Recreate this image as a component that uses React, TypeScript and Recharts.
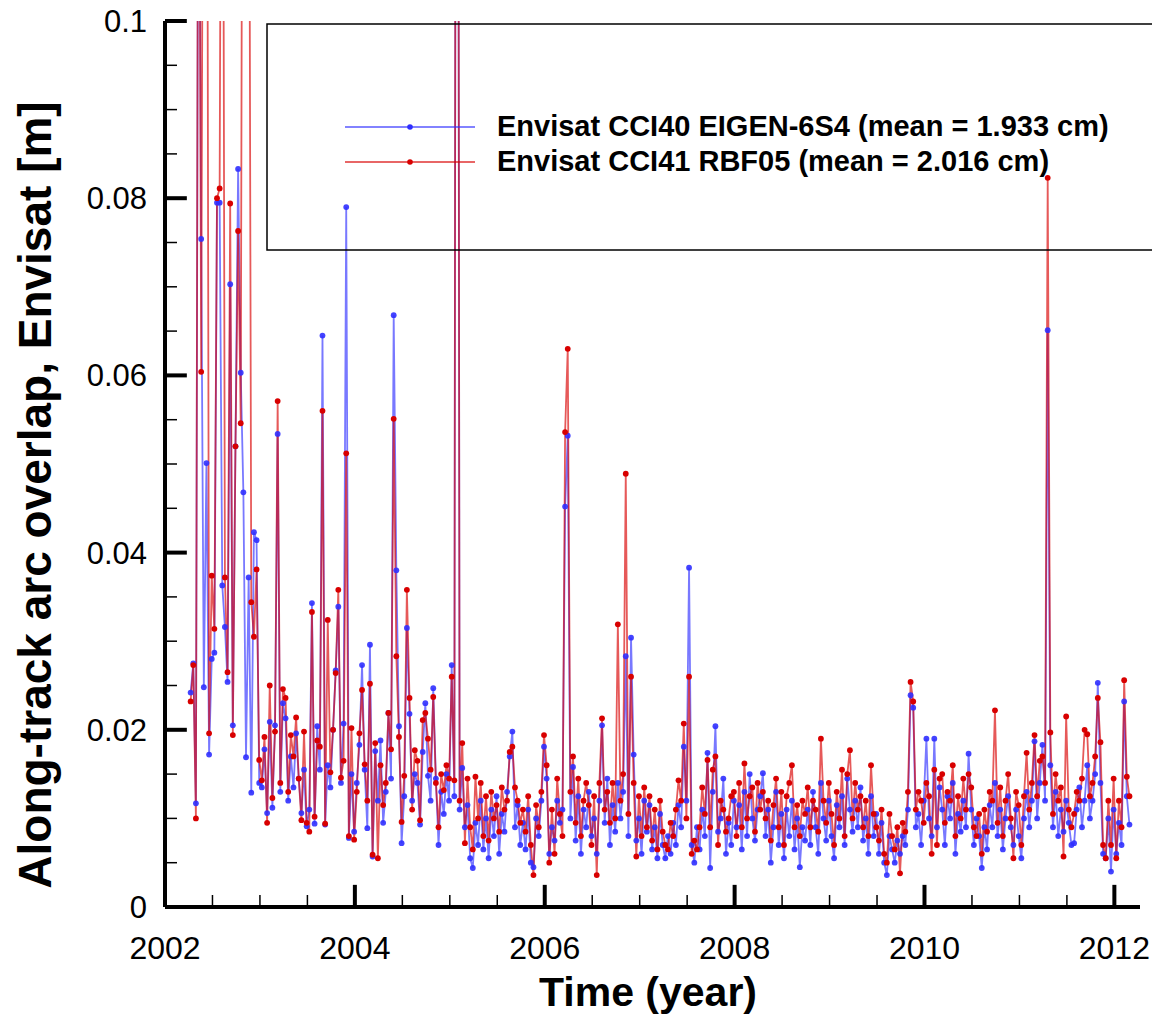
import { Legend, Line, LineChart, ReferenceLine, XAxis, YAxis } from "recharts";

// sampling grid of the overlap series (decimal years)
const START_YEAR = 2002.27;
const SAMPLES_PER_YEAR = 36;

// along-track arc overlap, Envisat, in mm (>100 mm runs off the top)
const eigenMm = [
  24.2, 27.5, 11.7, 140, 75.4, 24.8, 50.1, 17.2, 28.0, 28.7, 79.5, 79.5, 36.3, 31.6, 25.4, 70.3, 20.5, 52.0,
  83.3, 60.3, 46.8, 16.9, 37.2, 12.9, 42.3, 41.4, 14.0, 13.5, 17.8, 10.6, 20.9, 11.2, 20.5, 53.4, 13.0, 23.0,
  21.3, 12.0, 17.0, 13.5, 19.6, 14.5, 10.6, 15.5, 9.1, 11.0, 34.3, 9.4, 20.4, 15.5, 64.5, 9.3, 16.0, 13.5,
  20.0, 26.7, 33.9, 14.0, 20.7, 79.0, 7.8, 15.0, 8.5, 14.0, 18.3, 27.3, 15.5, 8.9, 29.6, 5.7, 17.6, 12.0,
  18.8, 9.5, 13.0, 21.9, 14.5, 66.8, 38.0, 20.4, 7.2, 12.5, 31.5, 21.8, 12.0, 15.0, 14.0, 9.3, 17.5, 23.0,
  14.8, 12.0, 24.7, 14.5, 7.0, 13.0, 10.5, 15.0, 12.0, 27.3, 12.5, 260, 11.0, 15.7, 9.0, 11.5, 5.5, 4.4,
  9.5, 7.0, 12.0, 6.5, 10.0, 5.5, 11.0, 8.0, 12.5, 6.0, 10.5, 8.5, 13.0, 17.0, 19.8, 9.0, 11.5, 7.0,
  9.5, 6.5, 11.0, 5.0, 4.5, 10.0, 8.0, 12.0, 18.1, 14.5, 6.0, 9.0, 7.5, 12.0, 9.5, 11.0, 45.2, 53.2,
  10.0, 15.8, 7.5, 12.5, 6.0, 11.0, 9.0, 13.0, 8.0, 10.0, 6.0, 12.0, 20.5, 9.5, 14.5, 7.0, 11.5, 8.5,
  14.0, 10.0, 13.0, 28.3, 8.0, 30.4, 17.2, 7.5, 10.0, 6.0, 12.0, 8.5, 11.5, 6.5, 9.0, 5.5, 10.5, 7.0,
  5.5, 8.0, 6.0, 9.5, 7.0, 11.5, 9.0, 18.1, 12.0, 38.3, 7.0, 5.0, 9.0, 6.5, 11.0, 8.0, 17.4, 4.4,
  13.0, 20.4, 8.5, 10.0, 14.5, 6.0, 9.5, 7.0, 12.0, 9.0, 11.5, 6.5, 13.0, 8.0, 15.0, 10.0, 7.5, 11.0,
  12.5, 15.1, 8.0, 11.0, 5.0, 9.0, 13.0, 7.0, 10.5, 5.5, 11.0, 8.0, 12.0, 6.5, 10.0, 4.5, 9.0, 7.5,
  11.0, 7.0, 13.0, 9.0, 6.0, 14.0, 10.0, 7.5, 12.0, 8.0, 5.5, 11.5, 9.0, 12.5, 7.0, 14.5, 11.0, 8.5,
  12.0, 9.0, 13.5, 7.5, 10.0, 6.0, 12.5, 8.0, 10.5, 6.0, 9.5, 5.0, 3.6, 8.0, 6.5, 5.0, 7.5, 6.0,
  8.0, 7.0, 11.0, 23.9, 22.5, 9.0, 10.5, 7.0, 12.0, 19.0, 10.0, 8.0, 19.0, 9.0, 13.5, 11.0, 7.0, 12.5,
  10.0, 14.0, 6.0, 10.5, 8.5, 12.0, 9.0, 17.3, 11.0, 7.0, 10.0, 8.0, 4.4, 9.0, 6.5, 11.5, 9.0, 14.0,
  8.0, 11.0, 6.5, 10.0, 12.5, 9.0, 7.0, 11.0, 8.0, 5.5, 10.0, 13.0, 9.0, 12.0, 18.7, 10.0, 14.0, 18.3,
  12.0, 65.1, 16.0, 9.0, 13.0, 8.0, 11.0, 8.5, 12.0, 9.5, 7.0, 7.2, 11.0, 13.5, 9.0, 12.0, 16.0, 10.0,
  12.0, 15.0, 25.3, 14.0, 6.0, 5.5, 10.0, 4.0, 11.0, 6.0, 9.5, 7.0, 23.2, 12.5, 9.3,
];

const rbfMm = [
  23.2, 27.3, 10.0, 150, 60.4, 160, 170, 19.6, 37.4, 31.4, 80.0, 81.1, 170, 37.2, 26.5, 79.4, 19.4, 52.0,
  76.3, 54.6, 180, 160, 150, 34.4, 30.5, 38.1, 16.6, 14.3, 19.2, 9.5, 25.0, 12.3, 19.8, 57.1, 14.0, 24.6,
  23.6, 13.0, 19.4, 17.0, 21.4, 14.5, 9.8, 19.8, 9.5, 8.5, 33.3, 10.2, 18.8, 18.1, 56.0, 9.4, 32.4, 15.2,
  20.0, 26.4, 35.8, 14.6, 16.5, 51.2, 8.0, 20.2, 7.6, 13.0, 19.6, 24.5, 16.1, 12.0, 25.2, 5.9, 18.5, 5.5,
  16.0, 11.5, 14.0, 21.9, 17.8, 55.1, 28.3, 19.2, 9.6, 14.8, 35.8, 23.6, 11.0, 17.7, 16.5, 9.8, 21.1, 21.9,
  19.0, 15.5, 23.7, 14.0, 9.0, 15.0, 13.2, 16.0, 14.5, 26.0, 14.3, 260, 12.0, 18.5, 7.2, 14.5, 9.0, 6.5,
  14.7, 10.0, 14.0, 8.0, 12.5, 7.5, 13.0, 10.0, 11.5, 8.5, 13.5, 11.0, 12.0, 17.5, 18.1, 13.5, 12.0, 9.5,
  11.0, 8.5, 12.5, 7.0, 3.6, 11.5, 9.0, 13.0, 19.4, 16.0, 5.0, 11.0, 6.0, 14.5, 10.5, 8.0, 53.6, 63.0,
  13.0, 17.0, 9.5, 14.5, 8.0, 12.0, 14.0, 11.5, 7.0, 12.5, 3.6, 14.0, 21.3, 11.0, 13.0, 9.5, 14.0, 10.0,
  31.9, 12.0, 15.0, 48.9, 10.5, 26.0, 14.0, 5.7, 12.5, 8.0, 13.5, 9.0, 12.5, 7.5, 11.0, 6.5, 12.0, 8.5,
  7.0, 6.5, 9.5, 8.0, 11.0, 14.3, 12.0, 20.7, 10.0, 26.0, 6.0, 7.5, 6.5, 9.0, 13.5, 10.5, 16.6, 9.0,
  15.5, 17.0, 7.0, 12.0, 11.0, 8.5, 10.0, 12.5, 13.0, 8.0, 14.0, 9.0, 16.2, 10.0, 12.5, 13.5, 8.5, 14.0,
  11.0, 13.0, 10.0, 12.0, 7.5, 11.5, 14.5, 9.0, 13.0, 7.0, 12.5, 14.0, 16.0, 9.0, 11.5, 8.0, 12.0, 10.5,
  13.5, 9.0, 12.0, 11.0, 8.5, 19.0, 12.0, 9.5, 14.0, 10.5, 7.0, 13.0, 10.0, 15.5, 8.0, 15.0, 17.7, 10.0,
  14.0, 11.0, 12.5, 9.0, 12.0, 8.0, 16.0, 10.5, 9.0, 7.5, 11.0, 6.0, 5.0, 10.5, 8.0, 6.5, 9.0, 3.8,
  9.5, 8.5, 13.0, 25.4, 23.2, 11.0, 13.0, 12.0, 9.5, 14.0, 12.5, 6.0, 15.5, 7.0, 14.5, 15.0, 9.5, 13.0,
  12.0, 16.0, 8.0, 12.5, 10.0, 14.5, 11.0, 15.0, 13.5, 9.0, 8.0, 10.5, 6.0, 11.0, 8.5, 13.0, 12.0, 22.2,
  9.5, 13.5, 8.0, 12.0, 15.0, 10.0, 5.5, 13.0, 11.5, 7.0, 12.5, 17.4, 11.0, 14.0, 19.4, 12.5, 16.5, 17.0,
  14.0, 82.3, 19.7, 10.5, 15.0, 12.0, 13.5, 5.7, 21.5, 11.0, 9.0, 10.5, 13.0, 12.0, 14.5, 20.0, 19.5, 12.5,
  14.0, 17.0, 23.6, 18.6, 7.0, 5.5, 12.0, 7.0, 14.5, 5.5, 12.0, 9.0, 25.6, 14.7, 12.5,
];

const seriesNames = [
  "Envisat CCI40 EIGEN-6S4 (mean = 1.933 cm)",
  "Envisat CCI41 RBF05 (mean = 2.016 cm)",
];

const xMajorTicks = [2002, 2004, 2006, 2008, 2010, 2012];
const xTickLabels = ["2002", "2004", "2006", "2008", "2010", "2012"];
const xMinorTicks = [
  2002.5, 2003, 2003.5, 2004.5, 2005, 2005.5, 2006.5, 2007, 2007.5,
  2008.5, 2009, 2009.5, 2010.5, 2011, 2011.5,
];

const yMajorTicks = [0, 0.02, 0.04, 0.06, 0.08, 0.1];
const yTickLabels = ["0", "0.02", "0.04", "0.06", "0.08", "0.1"];
const yMinorTicks = [
  0.005, 0.01, 0.015, 0.025, 0.03, 0.035, 0.045, 0.05, 0.055,
  0.065, 0.07, 0.075, 0.085, 0.09, 0.095,
];

const W = 1152;
const H = 1014;
const Y_AXIS_W = 165;
const X_AXIS_H = 107;
const AXIS_X = Y_AXIS_W; // where the y axis line sits
const AXIS_Y = H - X_AXIS_H; // where the x axis line sits
const X_DOMAIN = [2002, 2012.27];
const Y_DOMAIN = [0, 0.1];
// length of a major tick mark (~22 px) in axis units
const X_MAJOR_LEN = 0.0025;
const Y_MAJOR_LEN = 0.23;

const FONT = "'Liberation Sans', Arial, Helvetica, sans-serif";
const BLUE = "#2f2fff";
const RED = "#d80000";

const data = eigenMm.map((v, i) => ({
  t: START_YEAR + i / SAMPLES_PER_YEAR,
  eigen: v / 1000,
  rbf: rbfMm[i] / 1000,
}));

const xTicks = [...xMajorTicks, ...xMinorTicks].sort((a, b) => a - b);
const yTicks = [...yMajorTicks, ...yMinorTicks].sort((a, b) => a - b);

function findMajor(list: number[], v: number) {
  return list.findIndex((m) => Math.abs(m - v) < 1e-6);
}

function XTick(props: any) {
  const { x, payload } = props;
  const k = findMajor(xMajorTicks, payload.value);
  if (k < 0) return <g />;
  return (
    <text x={x} y={AXIS_Y + 52} textAnchor="middle" fontSize={32} fontFamily={FONT} fill="#000">
      {xTickLabels[k]}
    </text>
  );
}

function YTick(props: any) {
  const { y, payload } = props;
  const k = findMajor(yMajorTicks, payload.value);
  if (k < 0) return <g />;
  return (
    <text x={AXIS_X - 18} y={y + 11} textAnchor="end" fontSize={31} fontFamily={FONT} fill="#000">
      {yTickLabels[k]}
    </text>
  );
}

function XTitle() {
  return (
    <text x={648} y={1006} textAnchor="middle" fontSize={41} fontWeight="bold" fontFamily={FONT} fill="#000">
      Time (year)
    </text>
  );
}

function YTitle() {
  return (
    <text
      x={35}
      y={495}
      transform="rotate(-90 35 495)"
      textAnchor="middle"
      dominantBaseline="central"
      fontSize={46}
      fontWeight="bold"
      fontFamily={FONT}
      fill="#000"
    >
      Along-track arc overlap, Envisat [m]
    </text>
  );
}

function LegendBox() {
  const colors = [BLUE, RED];
  return (
    <svg width={W} height={H} style={{ position: "absolute", left: 0, top: 0 }}>
      <rect x={267} y={24} width={960} height={226} fill="none" stroke="#000" strokeWidth={1.5} />
      {seriesNames.map((name, i) => {
        const cy = 127 + i * 35;
        return (
          <g key={name}>
            <line x1={345} y1={cy} x2={475} y2={cy} stroke={colors[i]} strokeOpacity={0.6} strokeWidth={2} />
            <circle cx={410} cy={cy} r={2.8} fill={colors[i]} />
            <text x={497} y={cy + 9} fontSize={29} fontWeight="bold" fontFamily={FONT} fill="#000">
              {name}
            </text>
          </g>
        );
      })}
    </svg>
  );
}

export default function App() {
  return (
    <div style={{ position: "absolute", left: 0, top: 0, width: W, height: H, background: "#fff" }}>
      <LineChart width={W} height={H} data={data} margin={{ top: 21, right: 12, bottom: 0, left: 0 }}>
        <XAxis
          dataKey="t"
          type="number"
          domain={X_DOMAIN}
          allowDataOverflow
          ticks={xTicks}
          interval={0}
          tickSize={-12}
          tickMargin={0}
          height={X_AXIS_H}
          axisLine={{ stroke: "#000", strokeWidth: 4 }}
          tickLine={{ stroke: "#000", strokeWidth: 1.5 }}
          tick={<XTick />}
          label={<XTitle />}
        />
        <YAxis
          type="number"
          domain={Y_DOMAIN}
          allowDataOverflow
          ticks={yTicks}
          interval={0}
          tickSize={-12}
          tickMargin={0}
          width={Y_AXIS_W}
          axisLine={{ stroke: "#000", strokeWidth: 4 }}
          tickLine={{ stroke: "#000", strokeWidth: 1.5 }}
          tick={<YTick />}
          label={<YTitle />}
        />
        {/* long, thick major tick marks pointing into the plot */}
        {xMajorTicks.map((v) => (
          <ReferenceLine
            key={`xm${v}`}
            segment={[{ x: v, y: 0 }, { x: v, y: X_MAJOR_LEN }]}
            stroke="#000"
            strokeWidth={4}
            ifOverflow="visible"
          />
        ))}
        {yMajorTicks.map((v) => (
          <ReferenceLine
            key={`ym${v}`}
            segment={[{ x: X_DOMAIN[0], y: v }, { x: X_DOMAIN[0] + Y_MAJOR_LEN, y: v }]}
            stroke="#000"
            strokeWidth={4}
            ifOverflow="visible"
          />
        ))}
        <Legend
          verticalAlign="middle"
          layout="horizontal"
          content={() => <LegendBox />}
          wrapperStyle={{ position: "absolute", left: 0, top: 0, width: W, height: H, pointerEvents: "none" }}
        />
        <Line
          type="linear"
          dataKey="eigen"
          name={seriesNames[0]}
          stroke={BLUE}
          strokeOpacity={0.65}
          strokeWidth={1.8}
          dot={{ r: 2.9, fill: BLUE, stroke: "none", fillOpacity: 0.9 }}
          activeDot={false}
          isAnimationActive={false}
        />
        <Line
          type="linear"
          dataKey="rbf"
          name={seriesNames[1]}
          stroke={RED}
          strokeOpacity={0.65}
          strokeWidth={1.8}
          dot={{ r: 2.9, fill: RED, stroke: "none" }}
          activeDot={false}
          isAnimationActive={false}
        />
      </LineChart>
    </div>
  );
}
